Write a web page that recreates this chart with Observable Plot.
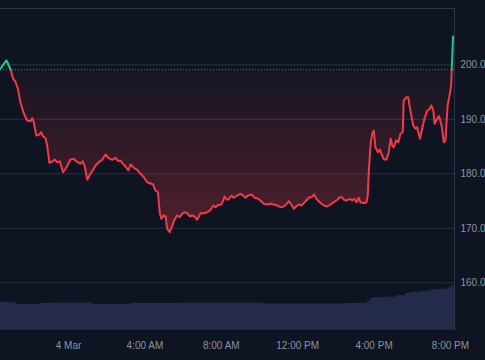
<!DOCTYPE html>
<html>
<head>
<meta charset="utf-8">
<script src="https://cdn.jsdelivr.net/npm/d3@7"></script>
<script src="https://cdn.jsdelivr.net/npm/@observablehq/plot@0.6"></script>
<style>
  html, body { margin: 0; padding: 0; background: #0e1421; }
  #wrap { position: relative; width: 485px; height: 360px; background: #0e1421; overflow: hidden; }
  #wrap svg { position: absolute; left: 0; top: 0; }
</style>
</head>
<body>
<div id="wrap"></div>
<script>
// ---- Data ----
const times = [
"03T20:26","03T20:45","03T20:58","03T21:06","03T21:13","03T21:21","03T21:29","03T21:40","03T21:50","03T22:01",
"03T22:06","03T22:11","03T22:19","03T22:27","03T22:34","03T22:40","03T22:48","03T22:53","03T23:00","03T23:09",
"03T23:17","03T23:24","03T23:33","03T23:43","03T23:54","04T00:06","04T00:17","04T00:25","04T00:38","04T00:45",
"04T00:51","04T00:59","04T01:09","04T01:16","04T01:25","04T01:35","04T01:46","04T01:56","04T02:05","04T02:17",
"04T02:28","04T02:36","04T02:43","04T02:51","04T02:59","04T03:08","04T03:15","04T03:25","04T03:36","04T03:46",
"04T03:57","04T04:07","04T04:18","04T04:26","04T04:33","04T04:41","04T04:47","04T04:52","04T04:58","04T05:05",
"04T05:10","04T05:18","04T05:26","04T05:33","04T05:41","04T05:50","04T05:57","04T06:04","04T06:13","04T06:21",
"04T06:29","04T06:36","04T06:44","04T06:55","04T07:05","04T07:16","04T07:26","04T07:35","04T07:42","04T07:49",
"04T08:00","04T08:06","04T08:10","04T08:19","04T08:24","04T08:32","04T08:39","04T08:50","04T09:00","04T09:08",
"04T09:16","04T09:24","04T09:35","04T09:45","04T09:56","04T10:03","04T10:13","04T10:24","04T10:35","04T10:45",
"04T10:56","04T11:06","04T11:16","04T11:24","04T11:32","04T11:40","04T11:48","04T11:55","04T12:03","04T12:12",
"04T12:19","04T12:25","04T12:35","04T12:46","04T12:51","04T12:59","04T13:09","04T13:22","04T13:33","04T13:43",
"04T13:53","04T14:04","04T14:12","04T14:20","04T14:25","04T14:33","04T14:44","04T14:51","04T14:58","04T15:05",
"04T15:12","04T15:17","04T15:28","04T15:36","04T15:40","04T15:43","04T15:49","04T15:54","04T15:59","04T16:04",
"04T16:12","04T16:18","04T16:23","04T16:31","04T16:39","04T16:46","04T16:52","04T16:57","04T17:02","04T17:09",
"04T17:16","04T17:23","04T17:30","04T17:33","04T17:42","04T17:47","04T17:54","04T18:03","04T18:10","04T18:15",
"04T18:24","04T18:31","04T18:38","04T18:47","04T18:55","04T19:00","04T19:06","04T19:10","04T19:18","04T19:24",
"04T19:32","04T19:39","04T19:44","04T19:51","04T19:58","04T20:02","04T20:08"
];
const prices = [
199.27,200.84,199.14,197.43,196.94,195.60,193.14,191.01,189.78,189.65,
190.20,189.47,187.03,187.16,187.63,186.90,186.53,185.19,182.02,182.26,
182.62,182.13,182.26,180.29,181.21,182.62,182.75,182.26,181.83,182.31,
181.34,178.90,180.00,180.61,181.52,182.13,182.57,183.54,182.94,182.57,
182.94,182.31,182.44,181.83,181.34,180.61,181.71,181.10,180.73,180.00,
179.38,178.46,178.22,178.04,176.94,176.62,172.66,171.74,172.35,172.17,
169.91,169.28,170.51,171.56,172.35,172.04,172.66,172.95,172.77,172.17,
172.35,172.17,171.56,172.77,172.77,172.95,173.39,174.18,173.87,174.24,
174.37,175.10,175.83,175.23,175.41,176.02,175.60,176.02,176.33,176.02,
175.60,176.02,176.20,175.60,175.41,175.10,174.50,174.37,174.50,174.37,
174.18,173.87,174.00,174.37,174.97,174.37,173.58,174.00,174.37,174.18,
174.61,174.97,175.60,175.83,176.20,175.41,174.79,174.18,174.00,174.37,
174.79,175.23,175.71,175.71,175.23,175.10,175.41,175.10,175.41,174.79,
175.60,174.79,174.61,174.79,176.02,180.00,185.50,187.34,187.94,184.88,
183.96,184.46,183.67,182.62,182.62,183.96,186.42,185.19,184.88,186.11,
185.80,187.34,187.63,193.45,194.06,194.06,191.61,188.86,188.26,188.55,
186.42,188.26,190.09,191.61,191.93,192.53,191.61,189.17,190.09,190.57,
188.86,185.80,186.11,192.53,194.68,196.20,205.19
];
const baselineValue = 199.08;

const volTimes = ["03T20:26","03T21:14","03T21:29","03T22:32","03T23:10","04T01:15","04T03:15","04T05:52","04T10:09","04T14:30",
"04T15:39","04T15:49","04T15:58","04T16:20","04T17:07","04T17:39","04T17:54","04T18:26","04T18:57","04T19:29","04T19:51","04T20:03","04T20:13"];
const volumes = [283,265,260,270,275,260,270,273,265,270,
290,320,327,333,347,370,383,393,405,413,425,450,455];

const yTicks = [160, 170, 180, 190, 200];
const xTickTimes = ["04T00:00","04T04:00","04T08:00","04T12:00","04T16:00","04T20:00"];
const xDomainStr = ["2024-03-03T20:26:24", "2024-03-04T20:12:36"];
const yDomain = [151.25, 210.33];

// ---- Build ----
const parse = s => new Date("2024-03-" + s);
const data = times.map((t, i) => ({t: parse(t), p: prices[i]}));
const vol = volTimes.map((t, i) => ({t: parse(t), v: volumes[i]}));
const xDomain = xDomainStr.map(s => new Date(s));
const xTicks = xTickTimes.map(parse);

const RED = "#f03a4a", GREEN = "#22c48a";
const fmtDay = d3.timeFormat("%-d %b"), fmtTime = d3.timeFormat("%-I:%M %p");
const tickFormat = d => (d.getHours() === 0 && d.getMinutes() === 0) ? fmtDay(d) : fmtTime(d);

const common = {
  width: 485, height: 360, marginLeft: 0, marginRight: 31, marginBottom: 30,
  x: {type: "time", domain: xDomain},
  style: {background: "transparent", color: "#8c93a3", fontSize: "10px",
          fontFamily: "'Liberation Sans', Arial, sans-serif", overflow: "hidden"}
};

const volPlot = Plot.plot({
  ...common,
  marginTop: 280,
  y: {domain: [0, 500]},
  axis: null,
  marks: [
    Plot.areaY(vol, {x: "t", y: "v", curve: "step-after", fill: "#242b4a"})
  ]
});

const NS = "http://www.w3.org/2000/svg";
function gradientDefs(index, scales) {
  const by = scales.y(baselineValue);
  const yEnd = scales.y(167);
  const top = scales.y(yDomain[1]);
  const defs = document.createElementNS(NS, "defs");
  const mk = (id, y1, y2, stops) => {
    const g = document.createElementNS(NS, "linearGradient");
    g.setAttribute("id", id);
    g.setAttribute("gradientUnits", "userSpaceOnUse");
    g.setAttribute("x1", 0); g.setAttribute("x2", 0);
    g.setAttribute("y1", y1); g.setAttribute("y2", y2);
    for (const [o, c, op] of stops) {
      const s = document.createElementNS(NS, "stop");
      s.setAttribute("offset", o);
      s.setAttribute("stop-color", c);
      s.setAttribute("stop-opacity", op);
      g.appendChild(s);
    }
    defs.appendChild(g);
  };
  const lo = by / 360;
  mk("lineGrad", 0, 360, [[0, GREEN, 1], [lo, GREEN, 1], [lo, RED, 1], [1, RED, 1]]);
  const fo = (by - top) / (yEnd - top);
  mk("fillGrad", top, yEnd, [[0, GREEN, 0.25], [fo, GREEN, 0.04], [fo, RED, 0.03], [1, RED, 0.32]]);
  return defs;
}

const mainPlot = Plot.plot({
  ...common,
  marginTop: 8,
  y: {domain: yDomain},
  marks: [
    gradientDefs,
    Plot.gridY(yTicks, {stroke: "#2a303e", strokeOpacity: 1}),
    Plot.ruleY([yDomain[1]], {stroke: "#2e3443"}),
    Plot.ruleX([xDomain[1]], {stroke: "#2e3443"}),
    Plot.areaY(data, {x: "t", y1: baselineValue, y2: "p", fill: "url(#fillGrad)"}),
    Plot.ruleY([baselineValue], {stroke: "#9aa0ad", strokeOpacity: 0.75, strokeDasharray: "1,2"}),
    Plot.lineY(data, {x: "t", y: "p", stroke: "url(#lineGrad)", strokeWidth: 2}),
    Plot.axisY(yTicks, {anchor: "right", tickSize: 0, tickPadding: 6, tickFormat: d => d.toFixed(1), label: null}),
    Plot.axisX(xTicks, {anchor: "bottom", tickSize: 0, tickPadding: 11, tickFormat, label: null})
  ]
});

const wrap = document.getElementById("wrap");
wrap.appendChild(volPlot);
wrap.appendChild(mainPlot);
</script>
</body>
</html>
